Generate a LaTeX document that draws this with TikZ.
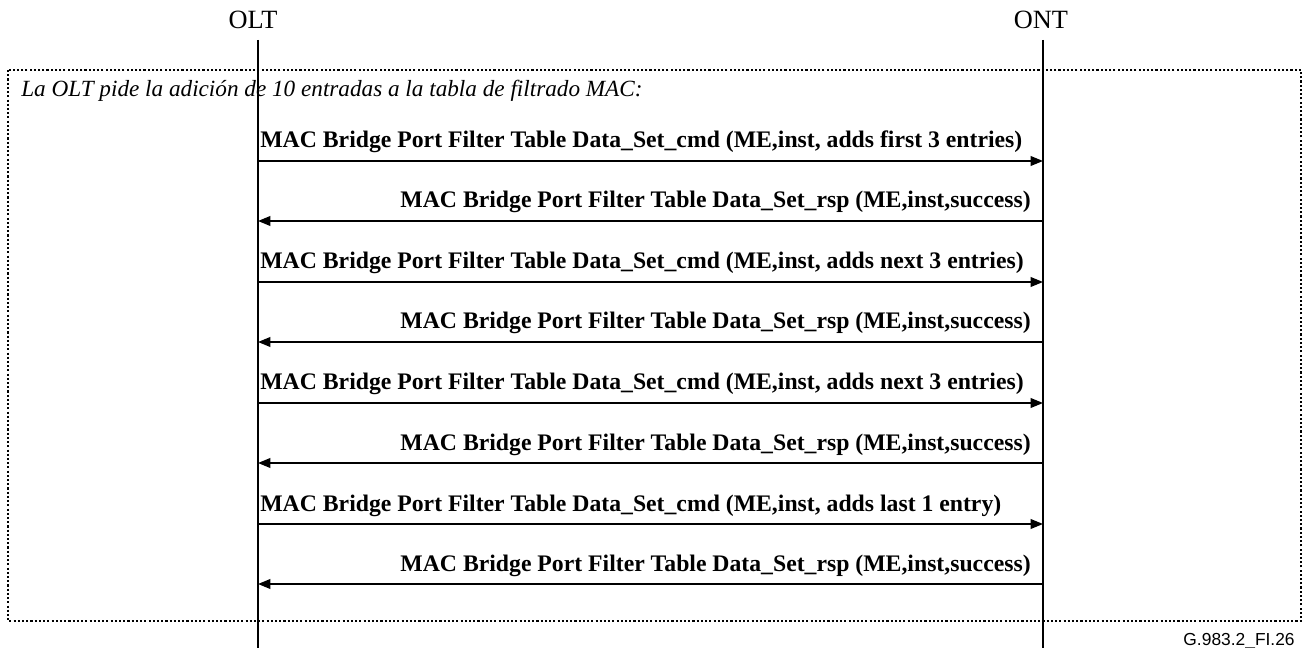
\documentclass[tikz,border=0pt]{standalone}
\usepackage{fontspec}
\setmainfont{Liberation Serif}
\newfontfamily\figfont{Liberation Sans}
\usetikzlibrary{arrows.meta}
\tikzset{
  lifeline/.style={line width=1.1pt},
  msgarrow/.style={line width=0.85pt, -{Triangle[length=7pt,width=5.5pt]}},
  cmdtext/.style={font=\fontsize{13.5}{15}\selectfont\bfseries, inner sep=0pt, anchor=base west},
  rsptext/.style={font=\fontsize{13.5}{15}\selectfont\bfseries, inner sep=0pt, anchor=base east},
}
\begin{document}
\begin{tikzpicture}[x=0.02cm, y=-0.02cm]
    \useasboundingbox (0,0) rectangle (1305,648);

    % recuadro punteado
    \draw[line width=0.8pt, dash pattern=on 1.2pt off 1.2pt] (8,70) rectangle (1301,621);
    \node[font=\itshape\fontsize{13.2}{15}\selectfont, anchor=base west, inner sep=0pt] (nota) at (21,97)
        {La OLT pide la adición de 10 entradas a la tabla de filtrado MAC:};

    % entidades y lineas de vida
    \node[font=\fontsize{15}{17}\selectfont] (olt) at (253,20) {OLT};
    \node[font=\fontsize{15}{17}\selectfont] (ont) at (1041,20) {ONT};
    \coordinate (olttop) at (258,40);
    \coordinate (oltbot) at (258,648);
    \coordinate (onttop) at (1043,40);
    \coordinate (ontbot) at (1043,648);
    \draw[lifeline] (olttop) -- (oltbot);
    \draw[lifeline] (onttop) -- (ontbot);

    % puntos de los mensajes
    \coordinate (a1) at (258,161);  \coordinate (b1) at (1043,161);
    \coordinate (a2) at (258,221);  \coordinate (b2) at (1043,221);
    \coordinate (a3) at (258,282);  \coordinate (b3) at (1043,282);
    \coordinate (a4) at (258,342);  \coordinate (b4) at (1043,342);
    \coordinate (a5) at (258,403);  \coordinate (b5) at (1043,403);
    \coordinate (a6) at (258,463);  \coordinate (b6) at (1043,463);
    \coordinate (a7) at (258,524);  \coordinate (b7) at (1043,524);
    \coordinate (a8) at (258,584);  \coordinate (b8) at (1043,584);

    % mensajes OLT -> ONT
    \draw[msgarrow] (a1) -- (b1);
    \node[cmdtext] (m1) at (260,148) {MAC Bridge Port Filter Table Data\_Set\_cmd (ME,inst, adds first 3 entries)};
    \draw[msgarrow] (a3) -- (b3);
    \node[cmdtext] (m3) at (260,269) {MAC Bridge Port Filter Table Data\_Set\_cmd (ME,inst, adds next 3 entries)};
    \draw[msgarrow] (a5) -- (b5);
    \node[cmdtext] (m5) at (260,390) {MAC Bridge Port Filter Table Data\_Set\_cmd (ME,inst, adds next 3 entries)};
    \draw[msgarrow] (a7) -- (b7);
    \node[cmdtext] (m7) at (260,511) {MAC Bridge Port Filter Table Data\_Set\_cmd (ME,inst, adds last 1 entry)};

    % respuestas ONT -> OLT
    \draw[msgarrow] (b2) -- (a2);
    \node[rsptext] (m2) at (1031,208) {MAC Bridge Port Filter Table Data\_Set\_rsp (ME,inst,success)};
    \draw[msgarrow] (b4) -- (a4);
    \node[rsptext] (m4) at (1031,329) {MAC Bridge Port Filter Table Data\_Set\_rsp (ME,inst,success)};
    \draw[msgarrow] (b6) -- (a6);
    \node[rsptext] (m6) at (1031,450) {MAC Bridge Port Filter Table Data\_Set\_rsp (ME,inst,success)};
    \draw[msgarrow] (b8) -- (a8);
    \node[rsptext] (m8) at (1031,571) {MAC Bridge Port Filter Table Data\_Set\_rsp (ME,inst,success)};

    % referencia
    \node[font=\figfont\fontsize{9.9}{11}\selectfont, anchor=base east, inner sep=0pt] (ref) at (1295,645) {G.983.2\_FI.26};
\end{tikzpicture}
\end{document}
